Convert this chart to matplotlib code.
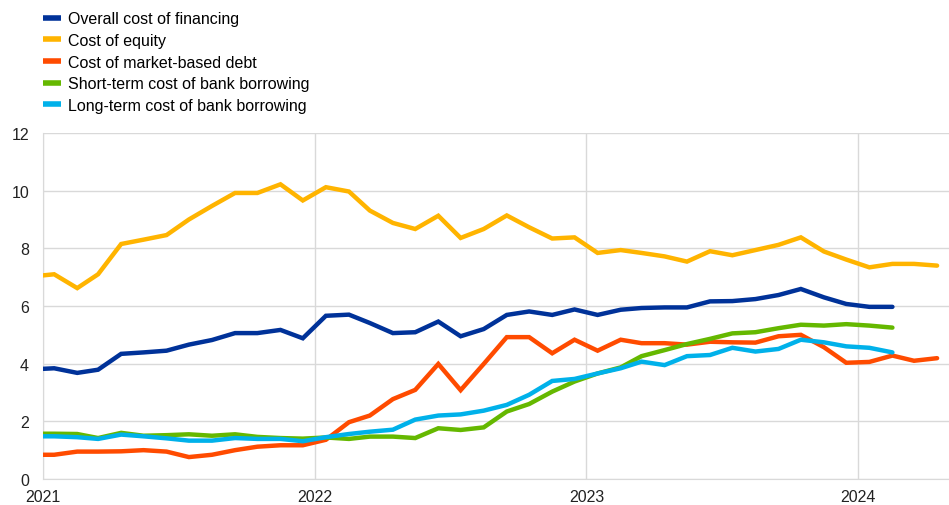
import matplotlib
matplotlib.use("Agg")
import matplotlib.pyplot as plt
import matplotlib.dates as mdates
import numpy as np
import pandas as pd

plt.rcParams["font.family"] = ["Liberation Sans", "DejaVu Sans"]

# monthly observations, Dec 2020 - Apr 2024 (plotted mid-month)
months = pd.date_range("2020-12-01", "2024-04-01", freq="MS") + pd.Timedelta(days=15)

overall = [3.80, 3.84, 3.68, 3.79, 4.34, 4.39, 4.45, 4.66, 4.82, 5.06, 5.06, 5.17, 4.88,
           5.66, 5.70, 5.41, 5.06, 5.09, 5.46, 4.95, 5.20, 5.69, 5.81, 5.69, 5.88,
           5.69, 5.87, 5.93, 5.95, 5.95, 6.16, 6.17, 6.24, 6.38, 6.59, 6.30, 6.07,
           5.97, 5.97, np.nan, np.nan]
equity = [7.02, 7.10, 6.62, 7.10, 8.15, 8.30, 8.46, 9.00, 9.47, 9.92, 9.92, 10.22, 9.66,
          10.12, 9.97, 9.31, 8.88, 8.67, 9.13, 8.36, 8.67, 9.14, 8.73, 8.34, 8.38,
          7.84, 7.94, 7.84, 7.72, 7.54, 7.90, 7.76, 7.94, 8.12, 8.38, 7.89, 7.61,
          7.34, 7.46, 7.46, 7.40]
market_debt = [0.84, 0.84, 0.95, 0.95, 0.96, 1.00, 0.95, 0.76, 0.84, 1.00, 1.12, 1.17, 1.17,
               1.36, 1.97, 2.20, 2.77, 3.09, 3.99, 3.08, 3.99, 4.92, 4.92, 4.36, 4.83,
               4.45, 4.83, 4.71, 4.71, 4.66, 4.76, 4.74, 4.73, 4.95, 5.00, 4.57, 4.03,
               4.06, 4.28, 4.10, 4.19]
short_term = [1.57, 1.57, 1.56, 1.42, 1.60, 1.50, 1.52, 1.55, 1.50, 1.55, 1.46, 1.42, 1.40,
              1.44, 1.39, 1.47, 1.47, 1.42, 1.76, 1.70, 1.79, 2.34, 2.60, 3.03, 3.38,
              3.66, 3.87, 4.26, 4.47, 4.68, 4.86, 5.05, 5.09, 5.23, 5.35, 5.32, 5.37,
              5.32, 5.25, np.nan, np.nan]
long_term = [1.48, 1.48, 1.45, 1.39, 1.54, 1.48, 1.41, 1.33, 1.33, 1.42, 1.39, 1.39, 1.31,
             1.45, 1.56, 1.64, 1.71, 2.06, 2.20, 2.24, 2.37, 2.57, 2.92, 3.40, 3.47,
             3.66, 3.84, 4.07, 3.95, 4.26, 4.30, 4.55, 4.42, 4.51, 4.83, 4.74, 4.60,
             4.55, 4.39, np.nan, np.nan]

series = [
    ("Overall cost of financing", overall, "#003299"),
    ("Cost of equity", equity, "#FFB400"),
    ("Cost of market-based debt", market_debt, "#FF4B00"),
    ("Short-term cost of bank borrowing", short_term, "#65B800"),
    ("Long-term cost of bank borrowing", long_term, "#00B1EA"),
]
draw_order = [2, 3, 4, 0, 1]

fig = plt.figure(figsize=(9.49, 5.06), dpi=100)
ax = fig.add_axes([0.0453, 0.0514, 0.9547, 0.6838])

handles = {}
for i in draw_order:
    name, vals, col = series[i]
    (ln,) = ax.plot(months, vals, color=col, lw=3.2, label=name,
                    solid_joinstyle="miter", solid_capstyle="round", zorder=3 + i)
    handles[i] = ln

ax.set_ylim(0, 12)
ax.set_yticks(np.arange(0, 13, 2))
ax.set_xlim(pd.Timestamp("2021-01-01"), pd.Timestamp("2024-05-02"))
ax.xaxis.set_major_locator(mdates.YearLocator())
ax.xaxis.set_major_formatter(mdates.DateFormatter("%Y"))

ax.grid(True, color="#d9d9d9", lw=1)
ax.set_axisbelow(True)
for s in ["top", "right"]:
    ax.spines[s].set_visible(False)
for s in ["left", "bottom"]:
    ax.spines[s].set_color("#d9d9d9")
ax.tick_params(length=0, labelsize=11.5, colors="#222222", pad=7)
ax.tick_params(axis="y", pad=10)

leg = fig.legend([handles[i] for i in range(5)], [s[0] for s in series],
                 loc="upper left", bbox_to_anchor=(0.035, 0.995), frameon=False,
                 fontsize=11.5, handlelength=1.15, handletextpad=0.4, labelspacing=0.42,
                 borderaxespad=0.2)
for h in leg.legend_handles:
    h.set_linewidth(4)
    h.set_solid_capstyle("butt")

fig.savefig("out.png", dpi=100)
